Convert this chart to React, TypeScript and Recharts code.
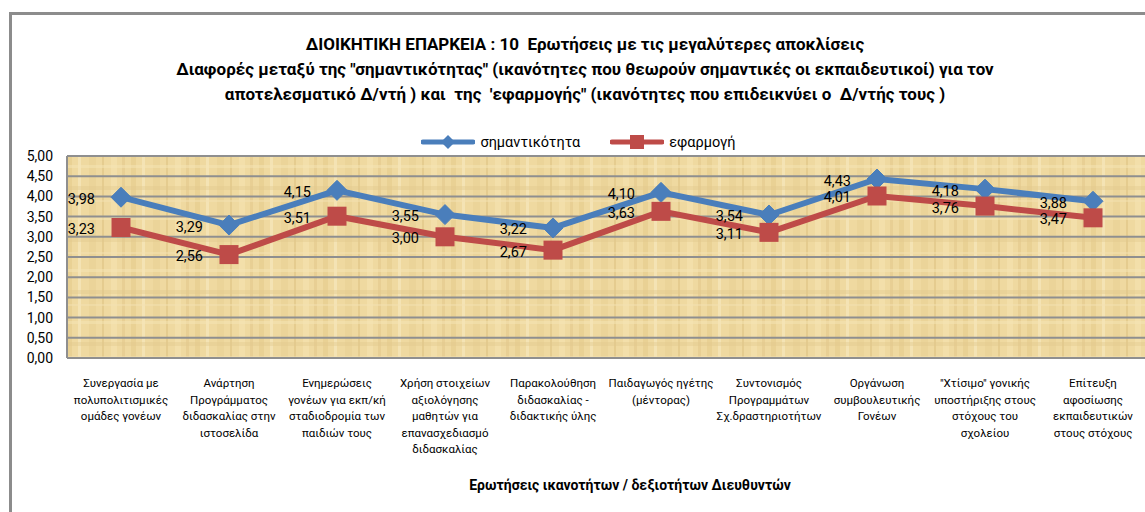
import React from "react";
import {
  LineChart, Line, XAxis, YAxis, CartesianGrid, Legend,
} from "recharts";

// 10 questions with the largest gaps (line breaks as in the original labels)
const categories = [
  "Συνεργασία με\nπολυπολιτισμικές\nομάδες γονέων",
  "Ανάρτηση\nΠρογράμματος\nδιδασκαλίας στην\nιστοσελίδα",
  "Ενημερώσεις\nγονέων για εκπ/κή\nσταδιοδρομία των\nπαιδιών τους",
  "Χρήση στοιχείων\nαξιολόγησης\nμαθητών για\nεπανασχεδιασμό\nδιδασκαλίας",
  "Παρακολούθηση\nδιδασκαλίας -\nδιδακτικής ύλης",
  "Παιδαγωγός ηγέτης\n(μέντορας)",
  "Συντονισμός\nΠρογραμμάτων\nΣχ.δραστηριοτήτων",
  "Οργάνωση\nσυμβουλευτικής\nΓονέων",
  "\"Χτίσιμο\" γονικής\nυποστήριξης στους\nστόχους του\nσχολείου",
  "Επίτευξη\nαφοσίωσης\nεκπαιδευτικών\nστους στόχους",
];
const importance = [3.98, 3.29, 4.15, 3.55, 3.22, 4.1, 3.54, 4.43, 4.18, 3.88];
const application = [3.23, 2.56, 3.51, 3.0, 2.67, 3.63, 3.11, 4.01, 3.76, 3.47];
const yTicks = [0, 0.5, 1, 1.5, 2, 2.5, 3, 3.5, 4, 4.5, 5];

const titleLines = [
  "ΔΙΟΙΚΗΤΙΚΗ ΕΠΑΡΚΕΙΑ : 10  Ερωτήσεις με τις μεγαλύτερες αποκλίσεις",
  "Διαφορές μεταξύ της \"σημαντικότητας\" (ικανότητες που θεωρούν σημαντικές οι εκπαιδευτικοί) για τον",
  "αποτελεσματικό Δ/ντή ) και  της  'εφαρμογής\" (ικανότητες που επιδεικνύει ο  Δ/ντής τους )",
];
const xTitle = "Ερωτήσεις ικανοτήτων / δεξιοτήτων Διευθυντών";

const BLUE = "#4A7EBB";
const RED = "#BE4B48";
const FONT = "Roboto, 'Noto Sans', sans-serif";

const data = categories.map((c, i) => ({
  name: c,
  imp: importance[i],
  app: application[i],
}));

const fmt = (v: number) => v.toFixed(2).replace(".", ",");

// eslint-disable-next-line @typescript-eslint/no-explicit-any
const Diamond = (p: any) => {
  const { cx, cy, index } = p;
  if (cx == null || cy == null) return null;
  const r = 10;
  return (
    <polygon
      key={`d-${index}`}
      points={`${cx},${cy - r} ${cx + r},${cy} ${cx},${cy + r} ${cx - r},${cy}`}
      fill={BLUE}
      stroke={BLUE}
    />
  );
};

// eslint-disable-next-line @typescript-eslint/no-explicit-any
const Square = (p: any) => {
  const { cx, cy, index } = p;
  if (cx == null || cy == null) return null;
  const s = 19;
  return <rect key={`s-${index}`} x={cx - s / 2} y={cy - s / 2} width={s} height={s} fill={RED} />;
};

// eslint-disable-next-line @typescript-eslint/no-explicit-any
const ValueLabel = (p: any) => {
  const { x, y, value, index } = p;
  return (
    <text key={`l-${index}`} x={x - 26} y={y + 2} textAnchor="end" dominantBaseline="central"
      fontSize={14.5} fill="#000" fontFamily={FONT}>
      {fmt(value)}
    </text>
  );
};

// eslint-disable-next-line @typescript-eslint/no-explicit-any
const CategoryTick = ({ x, y, payload }: any) => {
  const lines = String(payload.value).split("\n");
  return (
    <text x={x} y={y + 21} textAnchor="middle" fontSize={11.5} fill="#000" fontFamily={FONT}>
      {lines.map((l, i) => (
        <tspan key={i} x={x} dy={i === 0 ? 0 : 16.5}>{l}</tspan>
      ))}
    </text>
  );
};

const LegendIcon = ({ color, square }: { color: string; square?: boolean }) => (
  <svg width={54} height={16} style={{ display: "block" }}>
    <line x1={2} y1={8} x2={52} y2={8} stroke={color} strokeWidth={5} strokeLinecap="round" />
    {square
      ? <rect x={20} y={1} width={14} height={14} fill={color} />
      : <polygon points="27,1 34,8 27,15 20,8" fill={color} />}
  </svg>
);

const LegendBox = () => (
  <div style={{ display: "flex", justifyContent: "center", alignItems: "center", height: 28, gap: 30, fontFamily: FONT, fontSize: 14.5, color: "#000" }}>
    <div style={{ display: "flex", alignItems: "center", gap: 5 }}>
      <LegendIcon color={BLUE} /><span>σημαντικότητα</span>
    </div>
    <div style={{ display: "flex", alignItems: "center", gap: 5 }}>
      <LegendIcon color={RED} square /><span>εφαρμογή</span>
    </div>
  </div>
);

export default function App() {
  return (
    <div style={{ position: "absolute", left: 0, top: 0, width: 1145, height: 512, overflow: "hidden", background: "#fff", fontFamily: FONT }}>
      <div style={{ position: "absolute", left: 9, top: 12, width: 1300, height: 700, border: "3px solid #8c8c8c", boxSizing: "border-box" }} />
      <div style={{ position: "absolute", left: 0, top: 32, width: 1170, textAlign: "center", fontWeight: 700, fontSize: 17, lineHeight: "25px", color: "#000" }}>
        {titleLines.map((t, i) => <div key={i} style={{ whiteSpace: "pre" }}>{t}</div>)}
      </div>
      <div style={{ position: "absolute", left: 0, top: 0 }}>
        <LineChart width={1160} height={512} data={data} margin={{ top: 128, right: 13, bottom: 14, left: 10 }}>
          <defs>
            <pattern id="papyrus" width="64" height="52" patternUnits="userSpaceOnUse">
              <rect width="64" height="52" fill="#EFD9A0" />
              <rect x="3" width="5" height="52" fill="#E3C98A" opacity="0.55" />
              <rect x="14" width="3" height="52" fill="#F7E8BC" opacity="0.7" />
              <rect x="25" width="7" height="52" fill="#E8D094" opacity="0.6" />
              <rect x="38" width="2" height="52" fill="#DCC07E" opacity="0.5" />
              <rect x="47" width="6" height="52" fill="#F5E3B0" opacity="0.6" />
              <rect x="58" width="3" height="52" fill="#E1C688" opacity="0.5" />
              <rect y="9" width="64" height="3" fill="#F6E5B6" opacity="0.5" />
              <rect y="30" width="64" height="4" fill="#E2C98C" opacity="0.4" />
              <rect y="44" width="64" height="2" fill="#F4E2B2" opacity="0.5" />
            </pattern>
          </defs>
          <CartesianGrid vertical={false} stroke="#8F8F8F" strokeWidth={2} fill="url(#papyrus)" fillOpacity={1} />
          <XAxis
            dataKey="name"
            height={140}
            interval={0}
            padding={{ left: 54, right: 54 }}
            tick={<CategoryTick />}
            tickLine={false}
            axisLine={{ stroke: "#8F8F8F", strokeWidth: 2 }}
            label={{ value: xTitle, position: "insideBottom", offset: 8, dx: 23, fontSize: 14, fontWeight: 700, fill: "#000", fontFamily: FONT }}
          />
          <YAxis
            width={57}
            domain={[0, 5]}
            ticks={yTicks}
            interval={0}
            tickFormatter={fmt}
            tickLine={false}
            tickSize={0}
            tickMargin={14}
            tick={{ fontSize: 14, fill: "#000", fontFamily: FONT }}
            axisLine={{ stroke: "#8F8F8F", strokeWidth: 2 }}
          />
          <Legend verticalAlign="top" align="center" content={<LegendBox />} />
          <Line type="linear" dataKey="imp" name="σημαντικότητα" stroke={BLUE} strokeWidth={6}
            dot={Diamond} activeDot={false} label={ValueLabel} isAnimationActive={false} />
          <Line type="linear" dataKey="app" name="εφαρμογή" stroke={RED} strokeWidth={6}
            dot={Square} activeDot={false} label={ValueLabel} isAnimationActive={false} />
        </LineChart>
      </div>
    </div>
  );
}
